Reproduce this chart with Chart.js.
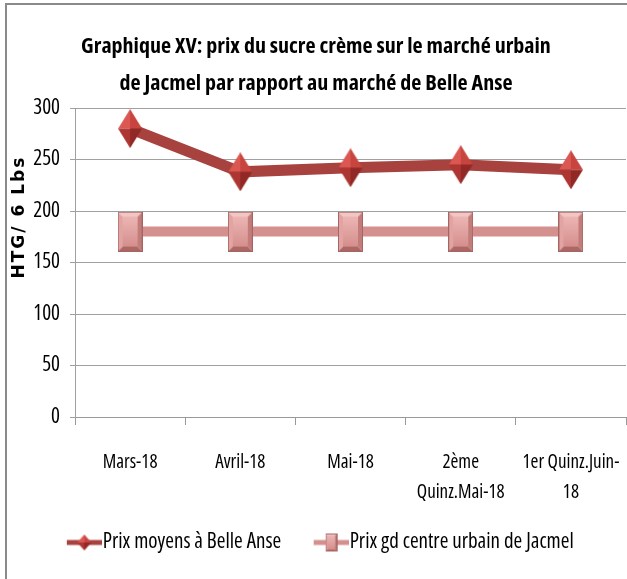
<!DOCTYPE html>
<html>
<head>
<meta charset="utf-8">
<script src="https://cdn.jsdelivr.net/npm/chart.js@4.4.1/dist/chart.umd.min.js"></script>
<style>
  html, body { margin: 0; padding: 0; background: #fff; overflow: hidden; }
  #frame { position: absolute; left: 5px; top: 3px; width: 700px; height: 700px;
           border-top: 2px solid #8a8a8a; border-left: 2px solid #8a8a8a; }
  #chart { position: absolute; left: 0; top: 0; }
</style>
</head>
<body>
<div id="frame"></div>
<canvas id="chart" width="627" height="579"></canvas>
<script>
const categories = [["Mars-18"], ["Avril-18"], ["Mai-18"], ["2ème", "Quinz.Mai-18"], ["1er Quinz.Juin-", "18"]];
const belleAnse = [280, 238, 242, 245, 240];
const jacmel = [180, 180, 180, 180, 180];
const yTicks = [0, 50, 100, 150, 200, 250, 300];
const seriesNames = ["Prix moyens à Belle Anse", "Prix gd centre urbain de Jacmel"];
const titleLines = ["Graphique XV: prix du sucre crème sur le marché urbain", "de Jacmel par rapport au marché de Belle Anse"];
const yAxisTitle = "HTG/ 6 Lbs";

// Open Sans has a width axis, so "condensed" gives a Calibri-like narrow face
const FAMILY = "'Open Sans', sans-serif";
const RED_LINE = "#a8423e";
const PINK_LINE = "#d4908e";

function makeCanvas(w, h) {
  const c = document.createElement("canvas");
  c.width = w;
  c.height = h;
  return c;
}

function poly(g, pts, color) {
  g.beginPath();
  g.moveTo(pts[0][0], pts[0][1]);
  for (let i = 1; i < pts.length; i++) g.lineTo(pts[i][0], pts[i][1]);
  g.closePath();
  g.fillStyle = color;
  g.fill();
}

// 3D-looking diamond marker
function diamondMarker(w, h) {
  const c = makeCanvas(w, h);
  const g = c.getContext("2d");
  const cx = w / 2, cy = h / 2;
  poly(g, [[0, cy], [cx, 0], [cx, cy]], "#da5752");
  poly(g, [[cx, 0], [w, cy], [cx, cy]], "#c8443f");
  poly(g, [[0, cy], [cx, cy], [cx, h]], "#ad3532");
  poly(g, [[cx, cy], [w, cy], [cx, h]], "#912825");
  return c;
}

// bevelled square marker
function squareMarker(w, h) {
  const c = makeCanvas(w, h);
  const g = c.getContext("2d");
  const b = Math.max(2, Math.round(w * 0.2));
  poly(g, [[0, 0], [w, 0], [w - b, b], [b, b]], "#f2c6c4");
  poly(g, [[0, 0], [b, b], [b, h - b], [0, h]], "#e2a4a2");
  poly(g, [[w, 0], [w, h], [w - b, h - b], [w - b, b]], "#c27d7b");
  poly(g, [[0, h], [b, h - b], [w - b, h - b], [w, h]], "#ad6866");
  const grad = g.createLinearGradient(0, b, 0, h - b);
  grad.addColorStop(0, "#ecb6b4");
  grad.addColorStop(1, "#d58f8d");
  g.fillStyle = grad;
  g.fillRect(b, b, w - 2 * b, h - 2 * b);
  g.strokeStyle = "#a66462";
  g.lineWidth = 1;
  g.strokeRect(0.5, 0.5, w - 1, h - 1);
  return c;
}

// legend swatch: line + marker, drawn in the right 35px of a wider canvas
// (the blank left part just widens the gap between legend entries)
function legendIcon(color, marker, mw, mh) {
  const c = makeCanvas(53, 20);
  const g = c.getContext("2d");
  g.fillStyle = color;
  g.fillRect(18, 7.5, 35, 5);
  g.drawImage(marker, 18 + (35 - mw) / 2, (20 - mh) / 2, mw, mh);
  return c;
}

const diamond = diamondMarker(24, 39);
const square = squareMarker(25, 40);
const legendIcons = [
  legendIcon(RED_LINE, diamondMarker(14, 16), 14, 16),
  legendIcon(PINK_LINE, squareMarker(12, 18), 12, 18),
];

const yTitlePlugin = {
  id: "yTitle",
  afterDraw(chart) {
    const { ctx, chartArea } = chart;
    ctx.save();
    ctx.translate(20, chartArea.top + (chartArea.bottom - chartArea.top) * 0.353);
    ctx.rotate(-Math.PI / 2);
    ctx.font = "bold 17px 'DejaVu Sans', sans-serif";
    ctx.letterSpacing = "2px";
    ctx.fillStyle = "#000";
    ctx.textAlign = "center";
    ctx.textBaseline = "middle";
    ctx.fillText(yAxisTitle, 0, 0);
    ctx.restore();
  },
};

new Chart(document.getElementById("chart"), {
  type: "line",
  data: {
    labels: categories,
    datasets: [
      {
        label: seriesNames[0],
        data: belleAnse,
        borderColor: RED_LINE,
        backgroundColor: RED_LINE,
        borderWidth: 11,
        pointStyle: diamond,
        pointRadius: 12,
        pointHoverRadius: 12,
        pointBorderWidth: 0,
        tension: 0,
      },
      {
        label: seriesNames[1],
        data: jacmel,
        borderColor: PINK_LINE,
        backgroundColor: PINK_LINE,
        borderWidth: 10,
        pointStyle: square,
        pointRadius: 12,
        pointHoverRadius: 12,
        pointBorderWidth: 0,
        tension: 0,
      },
    ],
  },
  options: {
    responsive: false,
    animation: false,
    layout: { autoPadding: false, padding: { left: 6, right: 1, top: 0, bottom: 16 } },
    plugins: {
      title: {
        display: true,
        text: titleLines,
        color: "#000",
        font: { family: FAMILY, size: 22, weight: "condensed bold", lineHeight: "37px" },
        padding: { top: 28, bottom: 6 },
      },
      legend: {
        position: "bottom",
        labels: {
          usePointStyle: true,
          pointStyleWidth: 34,
          padding: 24,
          color: "#000",
          font: { family: FAMILY, size: 21, weight: "condensed" },
          generateLabels(chart) {
            const items = Chart.defaults.plugins.legend.labels.generateLabels(chart);
            items.forEach((item, i) => { item.pointStyle = legendIcons[i]; });
            return items;
          },
        },
      },
      tooltip: { enabled: false },
    },
    scales: {
      x: {
        offset: true,
        grid: { offset: true, drawOnChartArea: false, tickLength: 8, color: "#999" },
        border: { color: "#999" },
        ticks: {
          color: "#000",
          font: { family: FAMILY, size: 19, weight: "condensed", lineHeight: 1.58 },
          padding: 23,
          maxRotation: 0,
          minRotation: 0,
          autoSkip: false,
        },
        afterFit(scale) {
          scale.height = 91;
          scale.paddingLeft = 0;
          scale.paddingRight = 0;
        },
      },
      y: {
        min: yTicks[0],
        max: yTicks[yTicks.length - 1],
        grid: { color: "#a0a0a0", tickLength: 5 },
        border: { color: "#a0a0a0" },
        ticks: {
          stepSize: yTicks[1] - yTicks[0],
          color: "#000",
          font: { family: FAMILY, size: 21, weight: "condensed" },
          padding: 10,
        },
        afterFit(scale) {
          scale.width = 69;
        },
      },
    },
  },
  plugins: [yTitlePlugin],
});
</script>
</body>
</html>
